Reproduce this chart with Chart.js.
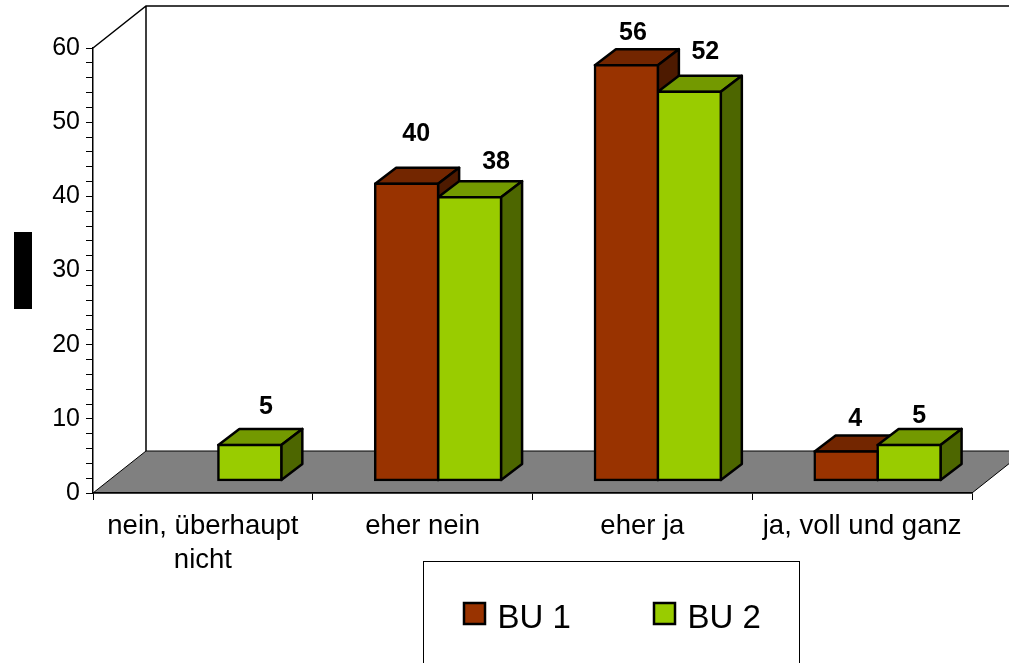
<!DOCTYPE html>
<html>
<head>
<meta charset="utf-8">
<style>
  body { margin: 0; background: #fff; }
  canvas { display: block; }
</style>
<script src="https://cdn.jsdelivr.net/npm/chart.js@4"></script>
</head>
<body>
<canvas id="barChart" width="1009" height="663"></canvas>
<script>
const categories = [['nein, überhaupt', 'nicht'], 'eher nein', 'eher ja', 'ja, voll und ganz']
const seriesNames = ['BU 1', 'BU 2']
const bu1Values = [null, 40, 56, 3.9]
const bu2Values = [4.8, 38.2, 52.4, 4.8]
const yTickLabels = [0, 10, 20, 30, 40, 50, 60]

const fontName = '"Liberation Sans", Arial, sans-serif'
const faces = [
  { front: '#993300', top: '#732600', side: '#4d1a00' },
  { front: '#99cc00', top: '#739900', side: '#4d6600' }
]
const wallDepth = { x: 53, y: -42 }
const barDepth = { x: 21, y: -16 }
const barShift = { x: 15.5, y: -12.5 }
// label position relative to top of the front face, one pair per bar
const labelNudges = [
  [null, [9.5, -50], [6.5, -32], [9, -32]],
  [[16, -38], [26.5, -35], [16, -40], [10, -29]]
]

function poly(ctx, pts, fill) {
  ctx.beginPath()
  pts.forEach((p, i) => i ? ctx.lineTo(p[0], p[1]) : ctx.moveTo(p[0], p[1]))
  ctx.closePath()
  if (fill) {
    ctx.fillStyle = fill
    ctx.fill()
  }
  ctx.stroke()
}

const walls = {
  id: 'walls',
  beforeDraw(chart) {
    const { ctx, chartArea: a, width } = chart
    const backX = a.left + wallDepth.x
    const backBottom = a.bottom + wallDepth.y
    const backTop = a.top + wallDepth.y
    ctx.save()
    ctx.strokeStyle = '#000'
    ctx.lineWidth = 1
    // floor
    poly(ctx, [
      [a.left, a.bottom], [backX, backBottom],
      [a.right + wallDepth.x, backBottom], [a.right, a.bottom]
    ], '#808080')
    // walls
    ctx.lineWidth = 1.5
    ctx.beginPath()
    ctx.moveTo(a.left, a.top)
    ctx.lineTo(backX, backTop)
    ctx.lineTo(width, backTop)
    ctx.moveTo(backX, backTop)
    ctx.lineTo(backX, backBottom)
    ctx.stroke()
    // blacked out axis title
    ctx.fillStyle = '#000'
    ctx.fillRect(14, 232, 18, 77)
    ctx.restore()
  }
}

const boxes = {
  id: 'boxes',
  beforeDatasetsDraw(chart) {
    const { ctx } = chart
    ctx.save()
    ctx.translate(barShift.x, barShift.y)
    ctx.strokeStyle = '#000'
    ctx.lineWidth = 2.5
    ctx.lineJoin = 'round'
    chart.data.datasets.forEach((ds, d) => {
      chart.getDatasetMeta(d).data.forEach((bar, i) => {
        if (ds.data[i] === null) return
        const l = bar.x - bar.width / 2
        const r = bar.x + bar.width / 2
        const t = bar.y
        const b = bar.base
        poly(ctx, [[l, t], [l + barDepth.x, t + barDepth.y], [r + barDepth.x, t + barDepth.y], [r, t]], faces[d].top)
        poly(ctx, [[r, t], [r + barDepth.x, t + barDepth.y], [r + barDepth.x, b + barDepth.y], [r, b]], faces[d].side)
      })
    })
  },
  afterDatasetsDraw(chart) {
    const { ctx } = chart
    ctx.fillStyle = '#000'
    ctx.font = 'bold 25px ' + fontName
    ctx.textAlign = 'center'
    ctx.textBaseline = 'middle'
    chart.data.datasets.forEach((ds, d) => {
      chart.getDatasetMeta(d).data.forEach((bar, i) => {
        if (ds.data[i] === null) return
        const nudge = labelNudges[d][i]
        ctx.fillText(String(Math.round(ds.data[i])), bar.x + nudge[0], bar.y + nudge[1])
      })
    })
    ctx.restore()
  }
}

const legendBox = {
  id: 'legendBox',
  afterDraw(chart) {
    const { ctx } = chart
    ctx.save()
    ctx.fillStyle = '#fff'
    ctx.strokeStyle = '#000'
    ctx.lineWidth = 1
    ctx.fillRect(423.5, 561.5, 376, 110)
    ctx.strokeRect(423.5, 561.5, 376, 110)
    ctx.font = '33px ' + fontName
    ctx.textAlign = 'left'
    ctx.textBaseline = 'alphabetic'
    seriesNames.forEach((name, i) => {
      const x = 464 + i * 190
      ctx.fillStyle = faces[i].front
      ctx.lineWidth = 2.5
      ctx.fillRect(x, 603, 21, 21)
      ctx.strokeRect(x, 603, 21, 21)
      ctx.fillStyle = '#000'
      ctx.fillText(name, x + 33.5, 628)
    })
    ctx.restore()
  }
}

new Chart(document.getElementById('barChart').getContext('2d'), {
  type: 'bar',
  data: {
    labels: categories,
    datasets: [
      { label: seriesNames[0], data: bu1Values, backgroundColor: faces[0].front },
      { label: seriesNames[1], data: bu2Values, backgroundColor: faces[1].front }
    ]
  },
  plugins: [walls, boxes, legendBox],
  options: {
    responsive: false,
    animation: false,
    layout: { padding: { left: 0, right: 37, top: 48, bottom: 0 } },
    plugins: { legend: { display: false }, tooltip: { enabled: false } },
    datasets: {
      bar: {
        categoryPercentage: 0.573,
        barPercentage: 1,
        borderColor: '#000',
        borderWidth: 2.5,
        borderSkipped: false,
        inflateAmount: 1.25,
        clip: false
      }
    },
    scales: {
      x: {
        afterFit(scale) { scale.height = 170 },
        grid: { offset: true, drawOnChartArea: false, tickLength: 7, color: '#000', lineWidth: 1 },
        border: { color: '#000', width: 1.5 },
        ticks: {
          color: '#000',
          font: { family: fontName, size: 27.5, lineHeight: 1.24 },
          padding: 9,
          autoSkip: false,
          maxRotation: 0
        }
      },
      y: {
        min: 0,
        max: 60,
        afterFit(scale) { scale.width = 93 },
        grid: { drawOnChartArea: false, tickLength: 7, color: '#000', lineWidth: 1 },
        border: { color: '#000', width: 1.5 },
        ticks: {
          stepSize: 2,
          autoSkip: false,
          color: '#000',
          font: { family: fontName, size: 25 },
          padding: 6,
          callback: value => yTickLabels.includes(value) ? String(value) : ''
        }
      }
    }
  }
})
</script>
</body>
</html>
